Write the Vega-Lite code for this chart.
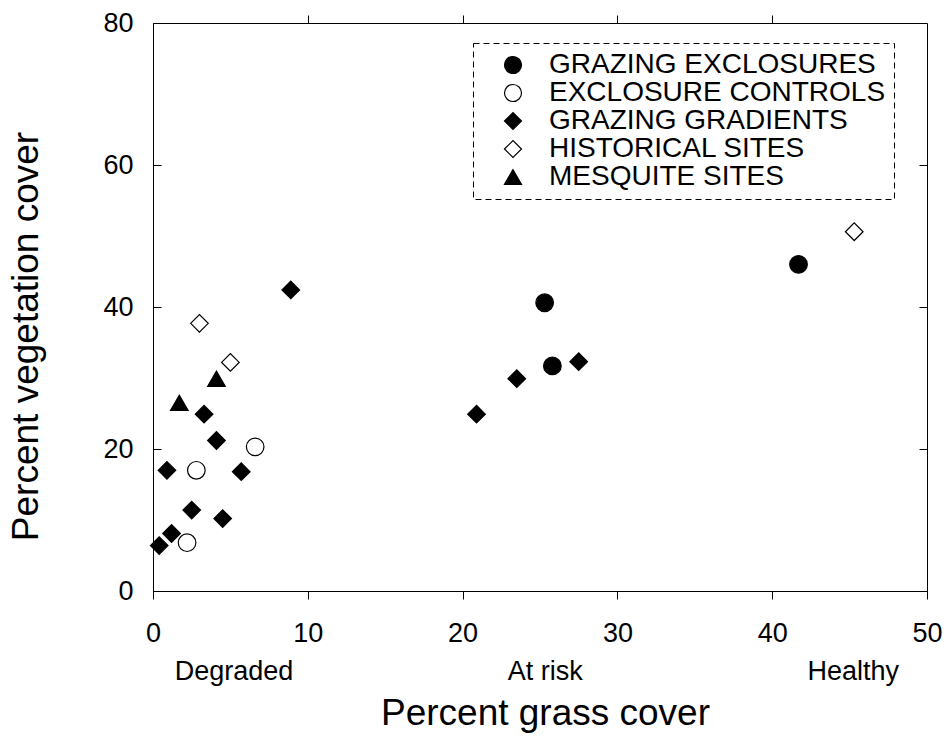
{
  "$schema": "https://vega.github.io/schema/vega-lite/v6.json",
  "width": 774,
  "height": 568,
  "autosize": {"type": "none"},
  "padding": {"left": 153, "top": 23, "right": 19, "bottom": 145},
  "background": "white",
  "config": {
    "font": "Liberation Sans",
    "view": {"stroke": "black", "strokeWidth": 1},
    "axis": {
      "domainColor": "black", "tickColor": "black", "labelColor": "black", "titleColor": "black",
      "grid": false, "labelFont": "Liberation Sans", "titleFont": "Liberation Sans",
      "titleFontWeight": "normal", "labelFontSize": 27, "titleFontSize": 37,
      "domainWidth": 1, "tickWidth": 1, "labelFlush": false, "labelOverlap": false
    },
    "legend": {
      "orient": "none", "legendX": 320, "legendY": 20,
      "labelFont": "Liberation Sans", "labelFontSize": 28, "labelColor": "black", "labelLimit": 0,
      "symbolSize": 290, "symbolStrokeColor": "black", "symbolStrokeWidth": 1.2,
      "padding": 8, "rowPadding": 0, "labelOffset": 22, "symbolOffset": 18,
      "strokeColor": "black", "strokeDash": [6, 4], "strokeWidth": 1
    }
  },
  "datasets": {
    "sites": [
      {"grass": 25.3, "cover": 40.6, "type": "GRAZING EXCLOSURES"},
      {"grass": 25.8, "cover": 31.7, "type": "GRAZING EXCLOSURES"},
      {"grass": 41.7, "cover": 46.0, "type": "GRAZING EXCLOSURES"},
      {"grass": 6.6, "cover": 20.3, "type": "EXCLOSURE CONTROLS"},
      {"grass": 2.8, "cover": 17.0, "type": "EXCLOSURE CONTROLS"},
      {"grass": 2.2, "cover": 6.8, "type": "EXCLOSURE CONTROLS"},
      {"grass": 8.9, "cover": 42.4, "type": "GRAZING GRADIENTS"},
      {"grass": 3.3, "cover": 24.9, "type": "GRAZING GRADIENTS"},
      {"grass": 4.1, "cover": 21.2, "type": "GRAZING GRADIENTS"},
      {"grass": 0.9, "cover": 17.0, "type": "GRAZING GRADIENTS"},
      {"grass": 5.7, "cover": 16.8, "type": "GRAZING GRADIENTS"},
      {"grass": 2.5, "cover": 11.4, "type": "GRAZING GRADIENTS"},
      {"grass": 4.5, "cover": 10.2, "type": "GRAZING GRADIENTS"},
      {"grass": 1.2, "cover": 8.1, "type": "GRAZING GRADIENTS"},
      {"grass": 0.4, "cover": 6.4, "type": "GRAZING GRADIENTS"},
      {"grass": 23.5, "cover": 29.9, "type": "GRAZING GRADIENTS"},
      {"grass": 27.5, "cover": 32.3, "type": "GRAZING GRADIENTS"},
      {"grass": 20.9, "cover": 24.9, "type": "GRAZING GRADIENTS"},
      {"grass": 3.0, "cover": 37.7, "type": "HISTORICAL SITES"},
      {"grass": 5.0, "cover": 32.2, "type": "HISTORICAL SITES"},
      {"grass": 45.3, "cover": 50.6, "type": "HISTORICAL SITES"},
      {"grass": 1.7, "cover": 26.5, "type": "MESQUITE SITES"},
      {"grass": 4.1, "cover": 29.9, "type": "MESQUITE SITES"}
    ],
    "zones": [
      {"grass": 5.2, "zone": "Degraded"},
      {"grass": 25.3, "zone": "At risk"},
      {"grass": 45.2, "zone": "Healthy"}
    ]
  },
  "layer": [
    {
      "data": {"name": "sites"},
      "mark": {"type": "point", "filled": true, "strokeWidth": 1.2, "size": 310, "opacity": 1},
      "encoding": {
        "x": {
          "field": "grass", "type": "quantitative",
          "scale": {"domain": [0, 50], "nice": false},
          "axis": {
            "orient": "bottom", "values": [0, 10, 20, 30, 40, 50], "tickSize": 8, "labelPadding": 21,
            "title": "Percent grass cover", "titleX": 392, "titleY": 133, "titleBaseline": "alphabetic", "titleAlign": "center"
          }
        },
        "y": {
          "field": "cover", "type": "quantitative",
          "scale": {"domain": [0, 80], "nice": false},
          "axis": {
            "orient": "left", "values": [0, 20, 40, 60, 80], "tickSize": -8, "labelPadding": 28,
            "title": "Percent vegetation cover", "titleX": -116, "titleY": 313, "titleAngle": -90,
            "titleBaseline": "alphabetic", "titleAlign": "center"
          }
        },
        "shape": {
          "field": "type", "type": "nominal",
          "scale": {
            "domain": ["GRAZING EXCLOSURES", "EXCLOSURE CONTROLS", "GRAZING GRADIENTS", "HISTORICAL SITES", "MESQUITE SITES"],
            "range": ["circle", "circle", "diamond", "diamond", "triangle-up"]
          },
          "legend": {"title": null, "symbolSize": 290, "symbolStrokeWidth": 1.2}
        },
        "fill": {
          "field": "type", "type": "nominal",
          "scale": {
            "domain": ["GRAZING EXCLOSURES", "EXCLOSURE CONTROLS", "GRAZING GRADIENTS", "HISTORICAL SITES", "MESQUITE SITES"],
            "range": ["black", "white", "black", "white", "black"]
          },
          "legend": {"title": null, "symbolSize": 290, "symbolStrokeWidth": 1.2}
        },
        "stroke": {
          "field": "type", "type": "nominal",
          "scale": {
            "domain": ["GRAZING EXCLOSURES", "EXCLOSURE CONTROLS", "GRAZING GRADIENTS", "HISTORICAL SITES", "MESQUITE SITES"],
            "range": ["black", "black", "black", "black", "black"]
          },
          "legend": {"title": null, "symbolSize": 290, "symbolStrokeWidth": 1.2}
        }
      }
    },
    {
      "data": {"name": "sites"},
      "mark": {"type": "point", "opacity": 0},
      "encoding": {
        "x": {
          "field": "grass", "type": "quantitative",
          "axis": {"orient": "top", "values": [10, 20, 30, 40], "tickSize": 8, "labels": false, "domain": false, "title": null}
        },
        "y": {
          "field": "cover", "type": "quantitative",
          "axis": {"orient": "right", "values": [20, 40, 60], "tickSize": -8, "labels": false, "domain": false, "title": null}
        }
      }
    },
    {
      "data": {"name": "zones"},
      "mark": {"type": "point", "opacity": 0},
      "encoding": {
        "x": {
          "field": "grass", "type": "quantitative",
          "axis": {
            "orient": "bottom", "values": [5.2, 25.3, 45.2], "ticks": false, "domain": false, "labelPadding": 67,
            "labelExpr": "datum.value < 15 ? 'Degraded' : (datum.value < 35 ? 'At risk' : 'Healthy')",
            "title": null
          }
        }
      }
    }
  ],
  "resolve": {"axis": {"x": "independent", "y": "independent"}}
}
